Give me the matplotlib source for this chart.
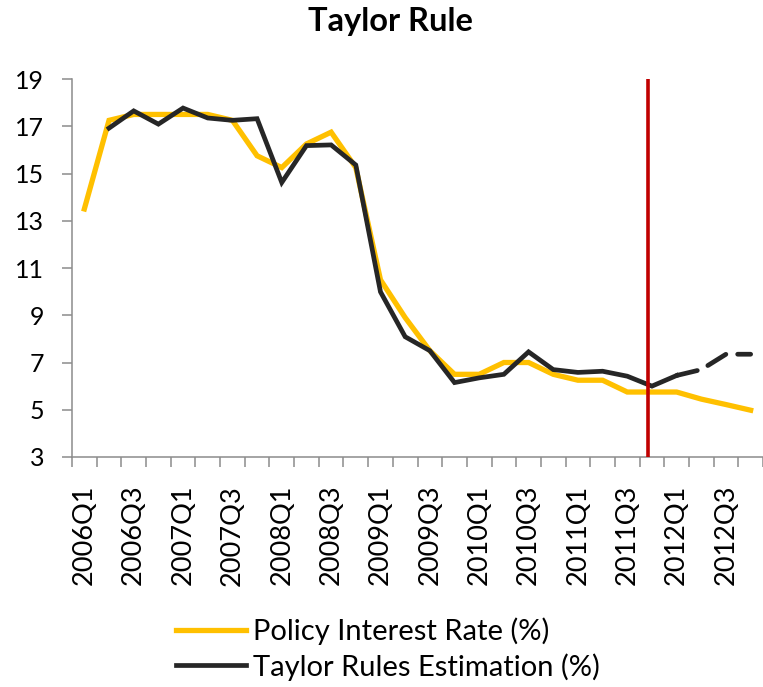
import matplotlib
matplotlib.use("Agg")
import matplotlib.pyplot as plt
from matplotlib.ticker import FixedLocator, NullFormatter

plt.rcParams['font.family'] = ['Lato', 'DejaVu Sans']

quarters = [f"{y}Q{q}" for y in range(2006, 2013) for q in range(1, 5)]

policy_rate = [13.5, 17.25, 17.5, 17.5, 17.5, 17.5, 17.25, 15.75, 15.25, 16.25,
               16.75, 15.25, 10.5, 8.9, 7.5, 6.5, 6.5, 7.0, 7.0, 6.5,
               6.25, 6.25, 5.75, 5.75, 5.75, 5.45, 5.22, 4.98]

taylor_est = [None, 16.92, 17.65, 17.09, 17.77, 17.35, 17.25, 17.32, 14.62, 16.18,
              16.21, 15.36, 9.99, 8.09, 7.5, 6.15, 6.35, 6.5, 7.45, 6.7,
              6.58, 6.63, 6.42, 6.0, 6.45, 6.7, 7.35, 7.35]

# last observed quarter of the estimate; later quarters are projections
last_actual = 24
cutoff_quarter = 22.85

fig = plt.figure(figsize=(7.63, 6.87), dpi=100)
ax = fig.add_axes([72 / 763, 1 - 457 / 687, 1 - 72 / 763, (457 - 79) / 687])

x = list(range(len(quarters)))
yellow = "#FFC000"
dark = "#262626"

ax.plot(x, policy_rate, color=yellow, lw=3.8, solid_joinstyle="miter",
        label="Policy Interest Rate (%)", zorder=2)

xs = [i for i in x[:last_actual + 1] if taylor_est[i] is not None]
ax.plot(xs, [taylor_est[i] for i in xs], color=dark, lw=3.4,
        solid_joinstyle="miter", label="Taylor Rules Estimation (%)", zorder=3)
xp = x[last_actual:]
ax.plot(xp, [taylor_est[i] for i in xp], color=dark, lw=3.4,
        dashes=(4.5, 2.5), dash_capstyle="round", zorder=3)

ax.axvline(cutoff_quarter, ymin=0, ymax=1, color="#C00000", lw=2.6, zorder=4)

ax.set_xlim(-0.5, len(quarters) - 0.5)
ax.set_ylim(3, 19)
ax.set_yticks(range(3, 20, 2))

ax.xaxis.set_major_locator(FixedLocator(x[::2]))
ax.set_xticklabels(quarters[::2], rotation=90)
ax.xaxis.set_minor_locator(FixedLocator([i - 0.5 for i in range(len(quarters) + 1)]))
ax.xaxis.set_minor_formatter(NullFormatter())

axis_gray = "#8C8C8C"
for side in ("top", "right"):
    ax.spines[side].set_visible(False)
for side in ("left", "bottom"):
    ax.spines[side].set_color(axis_gray)
    ax.spines[side].set_linewidth(1.1)

ax.tick_params(axis="y", direction="out", length=7, width=1.1, color=axis_gray,
               labelsize=18, pad=13, labelcolor="black")
ax.tick_params(axis="x", which="major", length=0, labelsize=19.5, pad=20,
               labelcolor="black")
ax.tick_params(axis="x", which="minor", direction="out", length=7, width=1.1,
               color=axis_gray)

fig.text(390 / 763, 1 - 21 / 687, "Taylor Rule", ha="center", va="center",
         fontsize=23.5, fontweight="bold")

leg = fig.legend(loc="center", bbox_to_anchor=(388 / 763, 1 - 649 / 687), ncol=1,
                 frameon=False, fontsize=21, handlelength=2.4, handletextpad=0.25,
                 labelspacing=0.28, borderpad=0)

fig.savefig("out.png", dpi=100, facecolor="white")
